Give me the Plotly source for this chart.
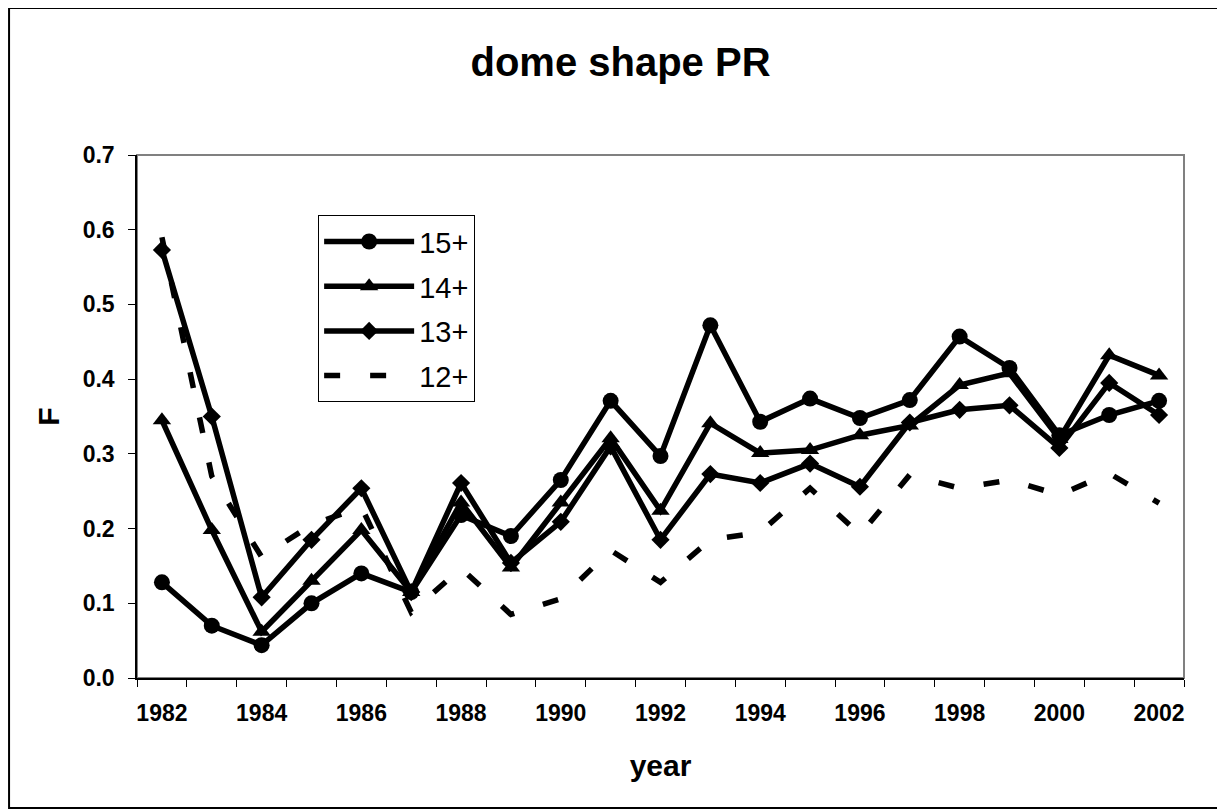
"""dome shape PR — F by year for four age groups."""

import plotly.graph_objects as go

# ── data ─────────────────────────────────────────────────────────────

years = list(range(1982, 2003))

f_15 = [0.128, 0.070, 0.044, 0.100, 0.140, 0.115, 0.218, 0.190, 0.265, 0.371, 0.297,
        0.472, 0.343, 0.374, 0.348, 0.372, 0.457, 0.415, 0.325, 0.352, 0.371]
f_14 = [0.345, 0.198, 0.062, 0.130, 0.198, 0.115, 0.235, 0.148, 0.235, 0.321, 0.224,
        0.341, 0.301, 0.305, 0.325, 0.338, 0.392, 0.408, 0.320, 0.432, 0.405]
f_13 = [0.573, 0.350, 0.108, 0.185, 0.254, 0.115, 0.261, 0.154, 0.209, 0.310, 0.185,
        0.273, 0.261, 0.287, 0.256, 0.342, 0.359, 0.365, 0.308, 0.395, 0.352]
f_12 = [0.590, 0.270, 0.162, 0.205, 0.229, 0.088, 0.147, 0.085, 0.106, 0.171, 0.128,
        0.185, 0.195, 0.254, 0.192, 0.272, 0.254, 0.265, 0.245, 0.274, 0.234]

y_ticks = [0.0, 0.1, 0.2, 0.3, 0.4, 0.5, 0.6, 0.7]
x_labels = list(range(1982, 2003, 2))

# ── chart ────────────────────────────────────────────────────────────

FONT = "Liberation Sans, Arial, sans-serif"

series = [
    ("15+", f_15, "circle", 16, "solid"),
    ("14+", f_14, "triangle-up", 16, "solid"),
    ("13+", f_13, "diamond", 14, "solid"),
    ("12+", f_12, None, 0, "16px,30px"),
]

fig = go.Figure()
for i, (name, vals, symbol, size, dash) in enumerate(series):
    fig.add_trace(
        go.Scatter(
            x=years,
            y=vals,
            name=name,
            legendgroup=f"g{i}",
            mode="lines+markers" if symbol else "lines",
            line={"color": "black", "width": 5.5, "dash": dash},
            marker={"symbol": symbol, "size": size, "color": "black"} if symbol else None,
        )
    )

# page has an 8px body margin, so margins are trimmed to land the plot at 137..1184 x 155..678
fig.update_layout(
    width=1225,
    height=810,
    margin={"l": 129, "r": 49, "t": 147, "b": 140},
    paper_bgcolor="white",
    plot_bgcolor="white",
    font={"family": FONT, "color": "black"},
    title={
        "text": "<b>dome shape PR</b>",
        "x": 0.5,
        "xanchor": "center",
        "y": 0.933,
        "yanchor": "middle",
        "font": {"size": 40},
    },
    legend={
        "x": 0.173,
        "y": 0.885,
        "xanchor": "left",
        "yanchor": "top",
        "bordercolor": "black",
        "borderwidth": 1,
        "bgcolor": "white",
        "font": {"size": 29},
        "itemwidth": 90,
        "tracegroupgap": 4,
    },
    showlegend=True,
)

fig.update_xaxes(
    range=[1981.5, 2002.5],
    tickvals=x_labels,
    ticktext=[f"<b>{y}</b>" for y in x_labels],
    ticks="",
    tickfont={"size": 23},
    ticklabelstandoff=14,
    showgrid=False,
    zeroline=False,
    showline=True,
    linecolor="black",
    linewidth=1.5,
    minor={"tick0": 1981.5, "dtick": 1, "ticks": "outside", "ticklen": 7,
           "tickcolor": "black", "showgrid": False},
    title={"text": "<b>year</b>", "font": {"size": 30}, "standoff": 30},
)
fig.update_yaxes(
    range=[0, 0.7],
    tickvals=y_ticks,
    ticktext=[f"<b>{v:.1f}</b>" for v in y_ticks],
    ticks="outside",
    ticklen=7,
    tickcolor="black",
    tickfont={"size": 23},
    ticklabelstandoff=9,
    showgrid=False,
    zeroline=False,
    showline=True,
    linecolor="black",
    linewidth=1.5,
    title={"text": "<b>F</b>", "font": {"size": 30}, "standoff": 14},
)

# grey plot-area frame (top and right edges)
fig.add_shape(type="rect", xref="paper", yref="paper", x0=0, x1=1, y0=0, y1=1,
              line={"color": "#808080", "width": 2}, layer="below")
# outer chart border
fig.add_shape(type="rect", xref="paper", yref="paper",
              x0=-0.1222, x1=1.04, y0=-0.2486, y1=1.281,
              line={"color": "black", "width": 2})

fig.write_html("out.html")
